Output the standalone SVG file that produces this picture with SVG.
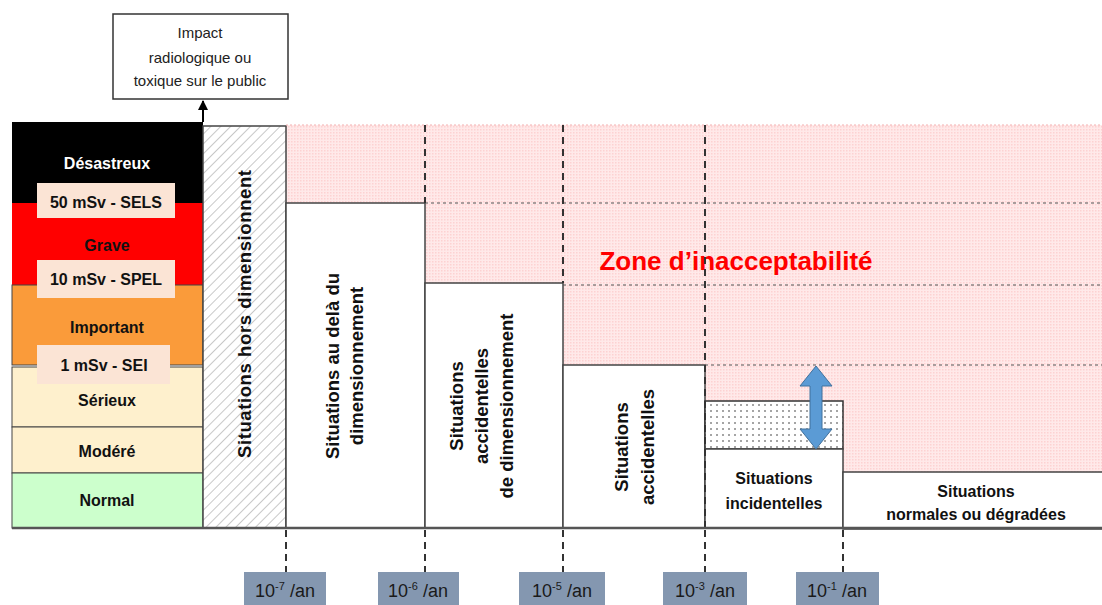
<svg xmlns="http://www.w3.org/2000/svg" width="1102" height="605" viewBox="0 0 1102 605">
<style>
text{font-family:"Liberation Sans",Arial,sans-serif;}
.lvl{font-size:16px;font-weight:bold;text-anchor:middle;fill:#111;}
.rot{font-size:18.5px;font-weight:bold;text-anchor:middle;fill:#111;}
.hz{font-size:16px;font-weight:bold;text-anchor:middle;fill:#111;}
.box{fill:#fff;stroke:#444;stroke-width:1.5;}
.vd{stroke:#333;stroke-width:2;stroke-dasharray:7,5;fill:none;}
.hd{stroke:#555;stroke-width:1.2;stroke-dasharray:3,3;fill:none;}
.freq{fill:#8497B0;}
.ft{font-size:18px;text-anchor:middle;fill:#1a1a1a;}
.lab{fill:#FBE4D5;}
.imp{font-size:15px;text-anchor:middle;fill:#222;}
</style>
<defs>
<pattern id="hatch" patternUnits="userSpaceOnUse" width="7" height="7" patternTransform="rotate(45)">
<rect width="7" height="7" fill="#fff"/>
<line x1="0" y1="0" x2="0" y2="7" stroke="#aaa" stroke-width="1.3"/>
</pattern>
<pattern id="pink" patternUnits="userSpaceOnUse" width="3" height="3">
<rect width="3" height="3" fill="#FFE9E9"/>
<rect width="1.5" height="1.5" fill="#FDD2D2"/>
</pattern>
<pattern id="dots" patternUnits="userSpaceOnUse" width="6" height="6">
<rect width="6" height="6" fill="#fff"/>
<circle cx="3" cy="3" r="0.8" fill="#333"/>
</pattern>
<marker id="ah" viewBox="0 0 10 10" refX="9" refY="5" markerWidth="5" markerHeight="5" orient="auto">
<path d="M0,0 L10,5 L0,10 z" fill="#000"/>
</marker>
</defs>

<g id="zone-inacceptabilite">
<polygon points="286,125 1102,125 1102,472 843,472 843,401 705,401 705,365 563,365 563,283 425,283 425,203 286,203" fill="url(#pink)"/>
<text x="736" y="270" font-size="26" font-weight="bold" fill="#FF0000" text-anchor="middle">Zone d’inacceptabilité</text>
</g>

<g id="impact">
<rect x="113" y="14" width="175" height="85" fill="#fff" stroke="#333" stroke-width="1.5"/>
<text class="imp" x="200" y="38">Impact</text>
<text class="imp" x="200" y="63">radiologique ou</text>
<text class="imp" x="200" y="86">toxique sur le public</text>
</g>

<g id="echelle">
<rect x="12" y="122" width="191" height="81" fill="#000"/>
<rect x="12" y="203" width="191" height="82" fill="#FF0000"/>
<rect x="12" y="285" width="191" height="80" fill="#FA9B3A" stroke="#444" stroke-width="1"/>
<rect x="12" y="367" width="191" height="60" fill="#FEF0CD" stroke="#444" stroke-width="1"/>
<rect x="12" y="427" width="191" height="46" fill="#FEF0CD" stroke="#444" stroke-width="1"/>
<rect x="12" y="473" width="191" height="55" fill="#CCFFCC" stroke="#444" stroke-width="1"/>
<rect class="lab" x="37" y="183" width="138" height="35"/>
<rect class="lab" x="37" y="260" width="138" height="38"/>
<rect class="lab" x="37" y="345" width="133" height="39"/>
<text class="lvl" x="107" y="169" style="fill:#fff">Désastreux</text>
<text class="lvl" x="106" y="208">50 mSv - SELS</text>
<text class="lvl" x="107" y="251">Grave</text>
<text class="lvl" x="106" y="285">10 mSv - SPEL</text>
<text class="lvl" x="107" y="333">Important</text>
<text class="lvl" x="104" y="371">1 mSv - SEI</text>
<text class="lvl" x="107" y="406">Sérieux</text>
<text class="lvl" x="107" y="457">Modéré</text>
<text class="lvl" x="107" y="506">Normal</text>
</g>

<g id="hors-dimensionnement">
<rect x="203" y="126" width="83" height="402" fill="url(#hatch)" stroke="#444" stroke-width="1.5"/>
<text class="rot" transform="translate(251,314) rotate(-90)" textLength="288" lengthAdjust="spacing">Situations hors dimensionnent</text>
</g>

<g id="au-dela">
<rect class="box" x="286" y="203" width="139" height="325"/>
<text class="rot" transform="translate(339,366) rotate(-90)">Situations  au delà du</text>
<text class="rot" transform="translate(363,366) rotate(-90)">dimensionnement</text>
</g>

<g id="accidentelles-dim">
<rect class="box" x="425" y="283" width="138" height="245"/>
<text class="rot" transform="translate(463,406) rotate(-90)">Situations</text>
<text class="rot" transform="translate(488,406) rotate(-90)">accidentelles</text>
<text class="rot" transform="translate(513,406) rotate(-90)">de dimensionnement</text>
</g>

<g id="accidentelles">
<rect class="box" x="563" y="365" width="142" height="163"/>
<text class="rot" transform="translate(628,447) rotate(-90)">Situations</text>
<text class="rot" transform="translate(654,447) rotate(-90)">accidentelles</text>
</g>

<g id="marge">
<rect x="705" y="401" width="138" height="48" fill="url(#dots)" stroke="#333" stroke-width="1.5"/>
</g>

<g id="incidentelles">
<rect class="box" x="705" y="449" width="138" height="79"/>
<text class="hz" x="774" y="484">Situations</text>
<text class="hz" x="774" y="509">incidentelles</text>
</g>

<g id="normales">
<rect class="box" x="843" y="472" width="262" height="57"/>
<text class="hz" x="976" y="497">Situations</text>
<text class="hz" x="976" y="520">normales ou dégradées</text>
</g>

<g id="connecteurs">
<line x1="203" y1="122" x2="203" y2="101" stroke="#000" stroke-width="2" marker-end="url(#ah)"/>
<line x1="286" y1="125" x2="1102" y2="125" stroke="#f3b0b0" stroke-width="1" stroke-dasharray="2,2"/>
<line class="hd" x1="425" y1="203" x2="1102" y2="203"/>
<line class="hd" x1="563" y1="285" x2="1102" y2="285"/>
<line class="hd" x1="705" y1="365" x2="1102" y2="365"/>
<line class="vd" x1="425" y1="125" x2="425" y2="203"/>
<line class="vd" x1="563" y1="125" x2="563" y2="283"/>
<line class="vd" x1="705" y1="125" x2="705" y2="528"/>
<line x1="12" y1="528" x2="1102" y2="528" stroke="#555" stroke-width="2.5"/>
<line class="vd" x1="286" y1="530" x2="286" y2="572"/>
<line class="vd" x1="425" y1="530" x2="425" y2="572"/>
<line class="vd" x1="563" y1="530" x2="563" y2="572"/>
<line class="vd" x1="705" y1="530" x2="705" y2="572"/>
<line class="vd" x1="843" y1="530" x2="843" y2="572"/>
<path d="M816,366 L832,386 L822,386 L822,429 L832,429 L816,449 L800,429 L810,429 L810,386 L800,386 Z" fill="#5B9BD5" stroke="#41719C" stroke-width="1"/>
</g>

<g id="frequences">
<rect class="freq" x="244" y="572" width="82" height="33"/>
<rect class="freq" x="378" y="572" width="81" height="33"/>
<rect class="freq" x="519" y="572" width="86" height="33"/>
<rect class="freq" x="663" y="572" width="84" height="33"/>
<rect class="freq" x="796" y="572" width="83" height="33"/>
<text class="ft" x="285" y="597">10<tspan font-size="11" dy="-7">-7</tspan><tspan dy="7"> /an</tspan></text>
<text class="ft" x="418" y="597">10<tspan font-size="11" dy="-7">-6</tspan><tspan dy="7"> /an</tspan></text>
<text class="ft" x="562" y="597">10<tspan font-size="11" dy="-7">-5</tspan><tspan dy="7"> /an</tspan></text>
<text class="ft" x="705" y="597">10<tspan font-size="11" dy="-7">-3</tspan><tspan dy="7"> /an</tspan></text>
<text class="ft" x="837" y="597">10<tspan font-size="11" dy="-7">-1</tspan><tspan dy="7"> /an</tspan></text>
</g>
</svg>
